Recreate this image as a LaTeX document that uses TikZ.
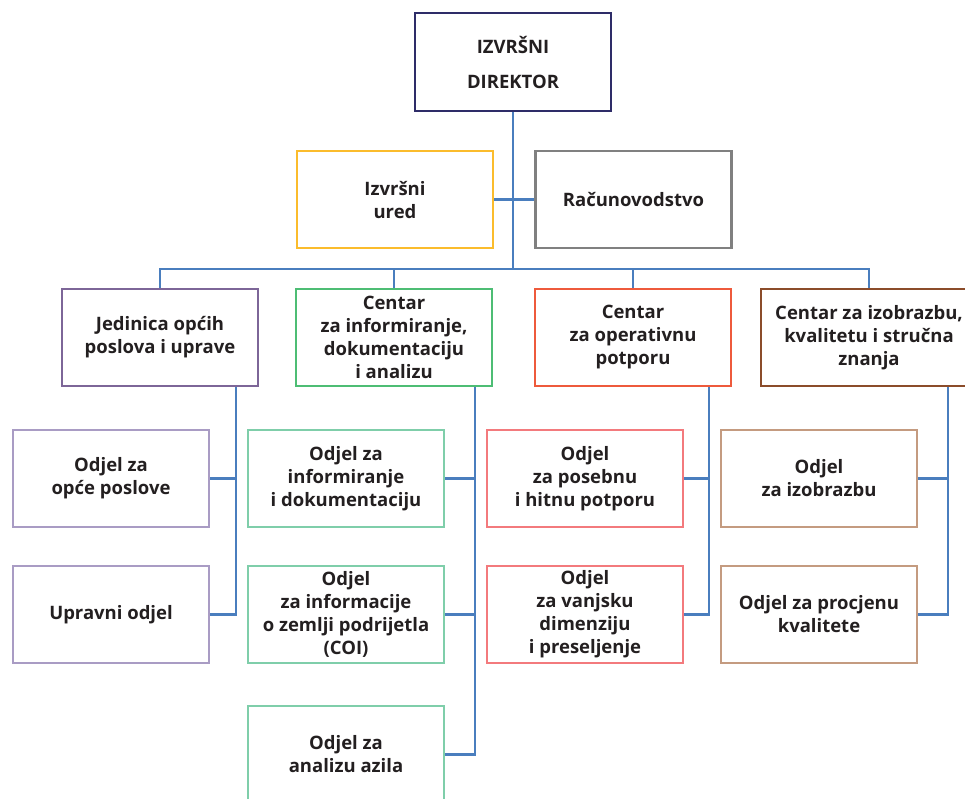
\documentclass[tikz,border=0pt]{standalone}
\usepackage{fontspec}
\setmainfont{Open Sans}
\usetikzlibrary{positioning}
\definecolor{navy}{HTML}{2E2C68}
\definecolor{gold}{HTML}{FBBC2C}
\definecolor{grayb}{HTML}{808080}
\definecolor{conn}{HTML}{4A7EBE}
\definecolor{purpleA}{HTML}{7D6698}
\definecolor{purpleB}{HTML}{A99CC4}
\definecolor{greenA}{HTML}{4DBD74}
\definecolor{greenB}{HTML}{7FCEAA}
\definecolor{redA}{HTML}{EE5A3C}
\definecolor{redB}{HTML}{F37A7D}
\definecolor{brownA}{HTML}{8B4C2A}
\definecolor{brownB}{HTML}{C49B80}
\definecolor{txt}{HTML}{231F20}
\tikzset{
  orgbox/.style={draw, line width=2.4pt, minimum width=196pt, minimum height=97pt,
    align=center, text=txt, inner sep=2pt,
    font=\bfseries\fontsize{18.5}{23}\selectfont},
  link/.style={draw=conn, line width=2.2pt},
}
\begin{document}
\begin{tikzpicture}[x=1pt,y=-1pt]
\useasboundingbox (0,0) rectangle (965,798);
\clip (0,0) rectangle (965,798);
% level 0
\node[orgbox, draw=navy, minimum height=98pt, font=\bfseries\fontsize{18.5}{35}\selectfont] (dir) at (513,62) {IZVRŠNI\\DIREKTOR};
\node[orgbox, draw=gold] (ured) at (395,199.5) {Izvršni\\ured};
\node[orgbox, draw=grayb] (racun) at (633.5,199.5) {Računovodstvo};
% level 1
\node[orgbox, draw=purpleA] (c1) at (160,337.5) {Jedinica općih\\poslova i uprave};
\node[orgbox, draw=greenA] (c2) at (394,337.5) {Centar\\za informiranje,\\dokumentaciju\\i analizu};
\node[orgbox, draw=redA] (c3) at (633,337.5) {Centar\\za operativnu\\potporu};
\node[orgbox, draw=brownA, minimum width=216pt] (c4) at (869,337.5) {Centar za izobrazbu,\\kvalitetu i stručna\\znanja};
% level 2
\node[orgbox, draw=purpleB] (a1) at (111,478.5) {Odjel za\\opće poslove};
\node[orgbox, draw=purpleB] (a2) at (111,614.5) {Upravni odjel};
\node[orgbox, draw=greenB] (b1) at (346,478.5) {Odjel za\\informiranje\\i dokumentaciju};
\node[orgbox, draw=greenB] (b2) at (346,614.5) {Odjel\\za informacije\\o zemlji podrijetla\\(COI)};
\node[orgbox, draw=greenB] (b3) at (346,754.5) {Odjel za\\analizu azila};
\node[orgbox, draw=redB] (d1) at (585,478.5) {Odjel\\za posebnu\\i hitnu potporu};
\node[orgbox, draw=redB] (d2) at (585,614.5) {Odjel\\za vanjsku\\dimenziju\\i preseljenje};
\node[orgbox, draw=brownB] (e1) at (819,478.5) {Odjel\\za izobrazbu};
\node[orgbox, draw=brownB] (e2) at (819,614.5) {Odjel za procjenu\\kvalitete};
% connectors
\coordinate (bus) at (0,269);
\coordinate (t1) at (236,0);
\coordinate (t2) at (475,0);
\coordinate (t3) at (709,0);
\coordinate (t4) at (948,0);
\path[link] (dir.south) -- (dir.south |- bus);
\path[link] (ured.east) -- (racun.west);
\path[link] (c1.north) -- (c1.north |- bus) -- (c4.north |- bus) -- (c4.north);
\path[link] (c2.north) -- (c2.north |- bus);
\path[link] (c3.north) -- (c3.north |- bus);
\path[link] (t1 |- c1.south) -- (t1 |- a2.east) -- (a2.east);
\path[link] (a1.east) -- (t1 |- a1.east);
\path[link] (t2 |- c2.south) -- (t2 |- b3.east) -- (b3.east);
\path[link] (b1.east) -- (t2 |- b1.east);
\path[link] (b2.east) -- (t2 |- b2.east);
\path[link] (t3 |- c3.south) -- (t3 |- d2.east) -- (d2.east);
\path[link] (d1.east) -- (t3 |- d1.east);
\path[link] (t4 |- c4.south) -- (t4 |- e2.east) -- (e2.east);
\path[link] (e1.east) -- (t4 |- e1.east);
\end{tikzpicture}
\end{document}
